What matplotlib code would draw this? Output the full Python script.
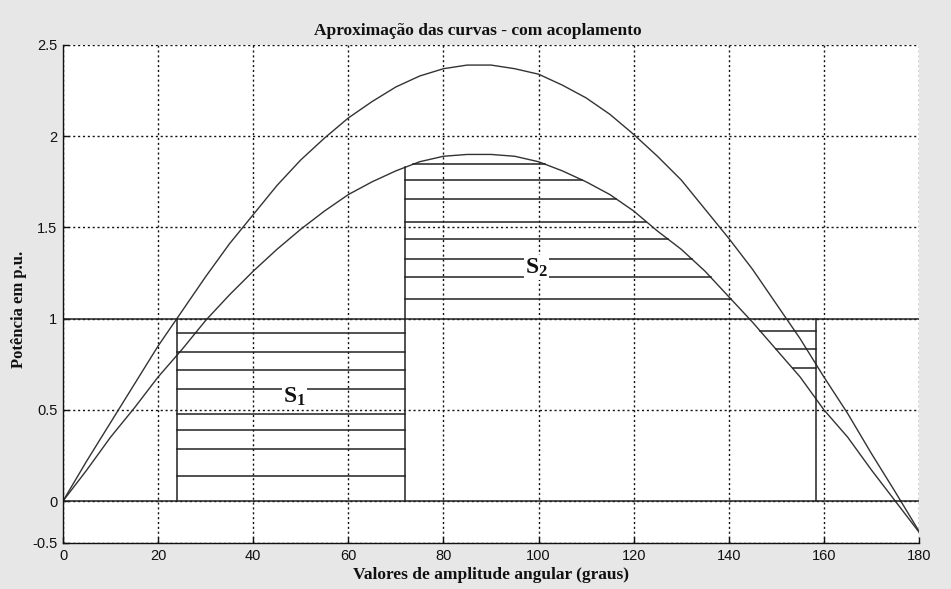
import numpy as np
import matplotlib
matplotlib.use("Agg")
import matplotlib.pyplot as plt

plt.rcParams["mathtext.fontset"] = "custom"
plt.rcParams["mathtext.rm"] = "Liberation Serif:bold"
plt.rcParams["mathtext.bf"] = "Liberation Serif:bold"
plt.rcParams["mathtext.it"] = "Liberation Serif:bold"

# ---------------- data ----------------
delta = [0, 5, 10, 15, 20, 25, 30, 35, 40, 45, 50, 55, 60, 65, 70, 75, 80, 85, 90,
         95, 100, 105, 110, 115, 120, 125, 130, 135, 140, 145, 150, 155, 160, 165,
         170, 175, 180]
p_upper = [0.00, 0.22, 0.43, 0.64, 0.85, 1.04, 1.23, 1.41, 1.57, 1.73, 1.87, 1.99,
           2.10, 2.19, 2.27, 2.33, 2.37, 2.39, 2.39, 2.37, 2.34, 2.28, 2.21, 2.12,
           2.01, 1.89, 1.76, 1.60, 1.44, 1.27, 1.08, 0.89, 0.68, 0.48, 0.26, 0.05,
           -0.36]
p_lower = [0.00, 0.17, 0.35, 0.51, 0.68, 0.83, 0.99, 1.13, 1.26, 1.38, 1.49, 1.59,
           1.68, 1.75, 1.81, 1.86, 1.89, 1.90, 1.90, 1.89, 1.86, 1.81, 1.75, 1.68,
           1.59, 1.48, 1.38, 1.26, 1.12, 0.98, 0.83, 0.68, 0.50, 0.35, 0.17, 0.00,
           -0.37]

p_mech = 1.0                     # horizontal power line
delta_0 = 24.0                   # initial angle
delta_c = 72.0                   # clearing angle
delta_m = 158.3                  # maximum angle

hatch_s1 = [0.92, 0.815, 0.718, 0.614, 0.477, 0.389, 0.283, 0.139]
hatch_s2 = [1.846, 1.76, 1.656, 1.531, 1.436, 1.325, 1.226, 1.106]
hatch_s3 = [0.932, 0.832, 0.727]

x_ticks = [0, 20, 40, 60, 80, 100, 120, 140, 160, 180]
y_ticks = [-0.5, 0, 0.5, 1, 1.5, 2, 2.5]
y_ticklabels = ["-0.5", "0", "0.5", "1", "1.5", "2", "2.5"]

title = "Aproximação das curvas - com acoplamento"
xlabel = "Valores de amplitude angular (graus)"
ylabel = "Potência em p.u."

# ---------------- helpers ----------------
d = np.asarray(delta, float)
lo = np.asarray(p_lower, float)
ipk = int(np.argmax(lo))


def lower_left(level):
    return np.interp(level, lo[:ipk + 1], d[:ipk + 1])


def lower_right(level):
    return np.interp(level, lo[ipk:][::-1], d[ipk:][::-1])


# the reference axis is compressed below zero
K = 0.4605


def fwd(y):
    y = np.asarray(y, float)
    return np.where(y < 0, y * K, y)


def inv(y):
    y = np.asarray(y, float)
    return np.where(y < 0, y / K, y)


# ---------------- figure ----------------
fig = plt.figure(figsize=(9.51, 5.89), dpi=100, facecolor="#e7e7e7")
ax = fig.add_axes([63 / 951, 46 / 589, (919 - 63) / 951, (543 - 45) / 589])
ax.set_facecolor("white")
ax.set_yscale("function", functions=(fwd, inv))
ax.set_xlim(0, 180)
ax.set_ylim(-0.5, 2.5)

ax.set_xticks(x_ticks)
ax.set_yticks(y_ticks)
ax.set_yticklabels(y_ticklabels)
ax.minorticks_off()
ax.grid(True, color="#111111", linestyle=(0, (1.5, 2.0)), linewidth=1.0)
ax.set_axisbelow(True)
for s in ("top", "right"):
    ax.spines[s].set_visible(False)
for s in ("left", "bottom"):
    ax.spines[s].set_linewidth(1.0)
    ax.spines[s].set_color("#111111")
ax.tick_params(direction="in", length=4, width=1, colors="#111111",
               labelsize=10.5, pad=4)
for lab in ax.get_xticklabels() + ax.get_yticklabels():
    lab.set_family("Liberation Sans")

line_kw = dict(color="#222222", linewidth=1.1)
curve_kw = dict(color="#333333", linewidth=1.0)

# curves
ax.plot(delta, p_upper, **curve_kw)
ax.plot(delta, p_lower, **curve_kw)

# reference lines
ax.plot([0, 180], [0, 0], **line_kw)
ax.plot([0, 180], [p_mech, p_mech], **line_kw)
ax.plot([delta_0, delta_0], [0, p_mech], **line_kw)
ax.plot([delta_c, delta_c], [0, np.interp(delta_c, d, lo)], **line_kw)
ax.plot([delta_m, delta_m], [0, p_mech], **line_kw)

# hatching S1
for h in hatch_s1:
    ax.plot([delta_0, delta_c], [h, h], **line_kw)
# hatching S2
for h in hatch_s2:
    x0 = max(delta_c, lower_left(h))
    x1 = lower_right(h)
    ax.plot([x0, x1], [h, h], **line_kw)
# hatching beyond
for h in hatch_s3:
    ax.plot([lower_right(h), delta_m], [h, h], **line_kw)

# area labels
lab_kw = dict(family="Liberation Serif", fontweight="bold", fontsize=17,
              color="#111111", ha="center", va="center",
              bbox=dict(boxstyle="square,pad=0.05", facecolor="white",
                        edgecolor="none"))
ax.text(48.6, 0.57, r"S$_\mathbf{1}$", **lab_kw)
ax.text(99.5, 1.28, r"S$_\mathbf{2}$", **lab_kw)

# titles
ax.set_title(title, family="Liberation Serif", fontweight="bold",
             fontsize=12.5, color="#111111", pad=7, x=0.485)
ax.set_xlabel(xlabel, family="Liberation Serif", fontweight="bold",
              fontsize=12.5, color="#111111", labelpad=3)
ax.set_ylabel(ylabel, family="Liberation Serif", fontweight="bold",
              fontsize=12, color="#111111")
ax.yaxis.set_label_coords(-0.042, 0.47)

fig.savefig("out.png", dpi=100, facecolor=fig.get_facecolor())
